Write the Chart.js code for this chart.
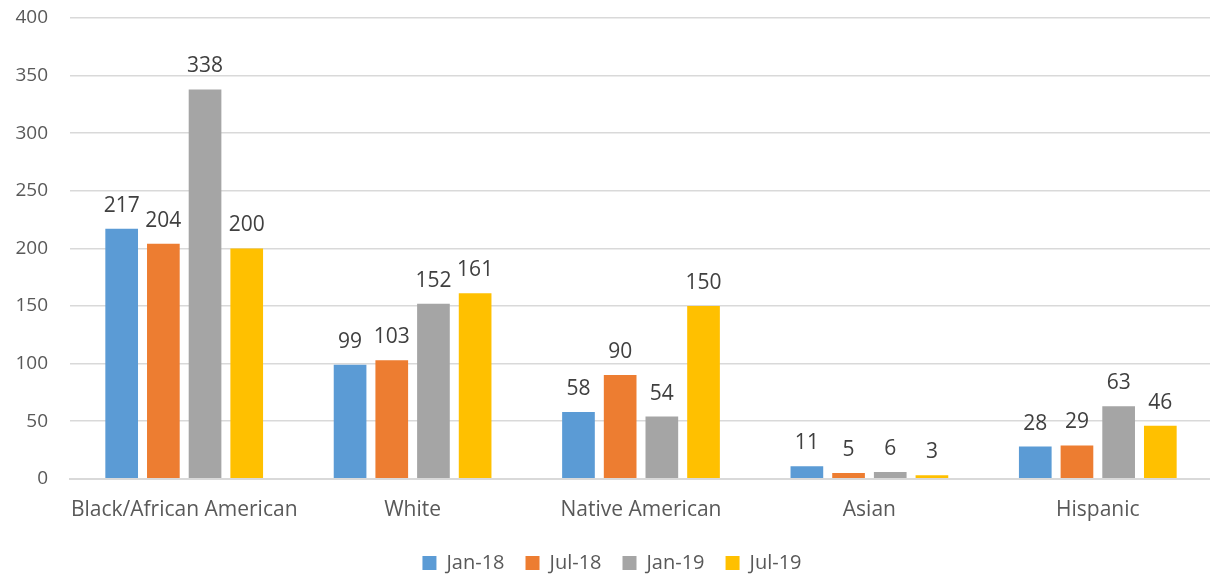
<!DOCTYPE html>
<html><head><meta charset="utf-8">
<script src="https://cdn.jsdelivr.net/npm/chart.js@4"></script>
<style>html,body{margin:0;padding:0;background:#fff;overflow:hidden}#wrap{width:1210px;height:578px;overflow:hidden}</style>
</head><body><div id="wrap"><canvas id="c" width="1214" height="578"></canvas></div>
<script>
const categories = ["Black/African American","White","Native American","Asian","Hispanic"];
const jan18 = [217, 99, 58, 11, 28];
const jul18 = [204, 103, 90, 5, 29];
const jan19 = [338, 152, 54, 6, 63];
const jul19 = [200, 161, 150, 3, 46];
const seriesNames = ["Jan-18","Jul-18","Jan-19","Jul-19"];
const colors = ["#5B9BD5","#ED7D31","#A5A5A5","#FFC000"];
const yTicks = [0,50,100,150,200,250,300,350,400];
const FONT = "'Open Sans', sans-serif";

const labelPlugin = {
  id:'labels',
  afterDatasetsDraw(chart){
    const ctx = chart.ctx;
    ctx.save();
    ctx.font = "21px " + FONT;
    ctx.fillStyle = "#404040";
    ctx.textAlign = "center";
    ctx.textBaseline = "alphabetic";
    chart.data.datasets.forEach((ds,i)=>{
      chart.getDatasetMeta(i).data.forEach((bar,j)=>{
        ctx.fillText(String(ds.data[j]), bar.x, bar.y - 17);
      });
    });
    ctx.restore();
  }
};

new Chart(document.getElementById('c'),{
  type:'bar',
  data:{
    labels:categories,
    datasets:[jan18,jul18,jan19,jul19].map((d,i)=>({
      label:seriesNames[i], data:d, backgroundColor:colors[i],
      categoryPercentage:0.73, barPercentage:0.784
    }))
  },
  options:{
    responsive:false, animation:false,
    layout:{padding:{left:12,right:2,top:18,bottom:-5}},
    plugins:{
      legend:{position:'bottom',labels:{font:{family:FONT,size:20},color:'#595959',boxWidth:14,boxHeight:14,padding:21}},
      tooltip:{enabled:false}
    },
    scales:{
      x:{grid:{display:false,drawTicks:false},border:{display:true,color:'#D9D9D9',width:2},
         ticks:{font:{family:FONT,size:21},color:'#595959',padding:19,maxRotation:0,minRotation:0,autoSkip:false},
         afterFit:(s)=>{s.paddingLeft=0;s.paddingRight=0;s.height-=10;}},
      y:{min:0,max:400,afterBuildTicks:(a)=>{a.ticks=yTicks.map(v=>({value:v}));},
         grid:{color:'#D9D9D9',lineWidth:1.5,drawTicks:false},border:{display:false},
         ticks:{font:{family:FONT,size:19},color:'#595959',padding:22},
         afterFit:(s)=>{s.width=58;s.paddingTop=0;s.paddingBottom=0;}}
    }
  },
  plugins:[labelPlugin]
});
</script></body></html>
